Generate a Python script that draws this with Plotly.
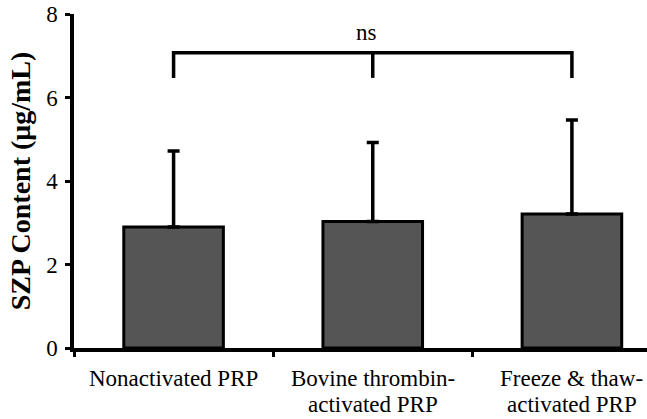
import plotly.graph_objects as go

categories = ["Nonactivated PRP", "Bovine thrombin-activated PRP", "Freeze & thaw-activated PRP"]
label_line1 = ["Nonactivated PRP", "Bovine thrombin-", "Freeze & thaw-"]
label_line2 = ["", "activated PRP", "activated PRP"]
means = [2.90, 3.03, 3.21]
err_upper = [1.82, 1.89, 2.25]
y_ticks = [0, 2, 4, 6, 8]
bracket_top = 7.07
bracket_drop = 6.47
sig_label = "ns"

FONT = "Liberation Serif"
xpos = list(range(len(categories)))

fig = go.Figure()
fig.add_trace(go.Bar(
    x=xpos, y=means, width=0.5,
    marker=dict(color="#555555", line=dict(color="black", width=3)),
    error_y=dict(type="data", array=err_upper, arrayminus=[0] * len(means),
                 symmetric=False, color="black", thickness=3.5, width=6),
    showlegend=False,
))

# significance bracket
bx = [xpos[0], xpos[0], xpos[-1], xpos[-1]]
by = [bracket_drop, bracket_top, bracket_top, bracket_drop]
fig.add_trace(go.Scatter(x=bx, y=by, mode="lines",
                         line=dict(color="black", width=3.5), showlegend=False,
                         hoverinfo="skip"))
fig.add_trace(go.Scatter(x=[xpos[1], xpos[1]], y=[bracket_drop, bracket_top], mode="lines",
                         line=dict(color="black", width=3.5), showlegend=False,
                         hoverinfo="skip"))

fig.add_annotation(x=0.97, y=bracket_top, yshift=6, text=sig_label, showarrow=False,
                   yanchor="bottom", font=dict(family=FONT, size=23, color="black"))

for i in xpos:
    fig.add_annotation(x=i, xref="x", y=-0.047, yref="paper", text=label_line1[i],
                       showarrow=False, yanchor="top",
                       font=dict(family=FONT, size=23, color="black"))
    if label_line2[i]:
        fig.add_annotation(x=i, xref="x", y=-0.125, yref="paper", text=label_line2[i],
                           showarrow=False, yanchor="top",
                           font=dict(family=FONT, size=23, color="black"))

fig.update_layout(
    width=647, height=419,
    margin=dict(l=74, r=0, t=14, b=71, autoexpand=False),
    plot_bgcolor="white", paper_bgcolor="white",
    font=dict(family=FONT, size=23, color="black"),
    bargap=0.5,
)
fig.update_xaxes(
    range=[-0.5, 2.377], showgrid=False, zeroline=False,
    showline=True, linecolor="black", linewidth=3.5,
    tickmode="array", tickvals=[-0.5, 0.5, 1.5], ticktext=["", "", ""],
    ticks="outside", ticklen=5, tickwidth=3, tickcolor="black", automargin=False,
)
fig.update_yaxes(
    range=[0, 8], showgrid=False, zeroline=False,
    showline=True, linecolor="black", linewidth=3.5,
    tickmode="array", tickvals=y_ticks, ticks="outside", ticklen=5,
    tickwidth=3, tickcolor="black", tickfont=dict(family=FONT, size=23),
    ticklabeloverflow="allow", ticklabelstandoff=3,
    title=dict(text="<b>SZP Content (μg/mL)</b>", font=dict(family=FONT, size=28), standoff=8),
    automargin=False,
)

fig.write_html("out.html", config={"displayModeBar": False},
               post_script="document.body.style.margin='0';")
